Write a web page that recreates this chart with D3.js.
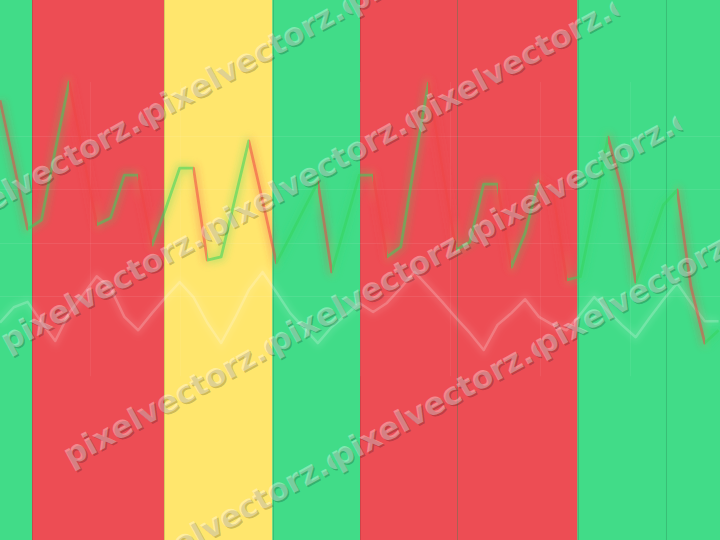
<!DOCTYPE html>
<html><head><meta charset="utf-8">
<script src="https://cdn.jsdelivr.net/npm/d3@7"></script>
<style>html,body{margin:0;padding:0;overflow:hidden;background:#41dc88}</style>
</head><body>
<svg id="c" width="720" height="540"></svg>
<script>
// ---- data ----
const priceValues = [56.6,44.7,32.5,34.2,47.3,60.0,46.7,33.3,34.6,42.6,42.6,29.5,36.4,43.9,43.9,26.7,27.3,38.1,49.0,37.8,
  26.2,31.2,36.3,41.3,24.5,33.5,42.6,42.6,27.3,29.2,44.9,59.8,43.9,28.6,30.1,40.9,40.9,25.4,31.8,41.5,
  39.8,23.0,23.6,36.6,49.7,39.8,22.6,29.5,37.0,39.8,21.7,11.2,13.6];
const baselineValues = [15.0,17.9,18.9,15.1,11.6,16.8,20.2,23.7,21.5,16.1,13.6,16.8,19.8,22.6,19.8,15.0,11.2,15.9,21.1,24.5,
  20.7,16.8,14.0,11.2,14.2,16.4,18.7,17.0,18.7,21.5,24.5,21.7,18.9,15.9,13.1,9.9,14.6,16.8,19.4,16.1,
  14.6,13.6,16.6,19.8,17.2,14.6,12.3,15.9,19.3,22.4,18.7,15.3,15.3];
const bandStart = [-1, 2.32, 11.87, 19.72, 26.05, 33.1, 41.79, 48.19];
const bandEnd   = [2.32, 11.87, 19.72, 26.05, 33.1, 41.79, 48.19, 54];
const bandState = ["up","down","neutral","up","down","down","up","up"];
const yTicks = [20, 30, 40, 50];
const colTicks = [1, 2, 3, 4, 5, 6, 7];
const watermarkText = "pixelvectorz.com";

// ---- setup ----
const W = 720, H = 540;
const svg = d3.select("#c");
const x = d3.scaleLinear().domain([0, 52.1]).range([0, W]);
const y = d3.scaleLinear().domain([0, 50]).range([403, 135.5]);
const colX = d3.scaleLinear().domain([0, 8]).range([0, W]);
const bandColor = {up: "#41dc88", down: "#ed4d54", neutral: "#ffe66d"};
const upColor = "#34d45e", downColor = "#ef4444";

const defs = svg.append("defs");
const f = defs.append("filter").attr("id", "glow").attr("x", "-20%").attr("y", "-20%").attr("width", "140%").attr("height", "140%");
f.append("feGaussianBlur").attr("stdDeviation", 3);

const grad = defs.append("linearGradient").attr("id", "seg")
  .attr("gradientUnits", "userSpaceOnUse").attr("x1", 0).attr("x2", W).attr("y1", 0).attr("y2", 0);
for (let i = 0; i < priceValues.length - 1; i++) {
  const c = priceValues[i + 1] >= priceValues[i] ? upColor : downColor;
  grad.append("stop").attr("offset", Math.max(0, Math.min(1, x(i) / W))).attr("stop-color", c);
  grad.append("stop").attr("offset", Math.max(0, Math.min(1, x(i + 1) / W))).attr("stop-color", c);
}

// bands
const bands = bandState.map((s, k) => ({s, a: bandStart[k], b: bandEnd[k]}));
svg.append("g").selectAll("rect").data(bands).join("rect")
  .attr("x", d => x(d.a)).attr("y", 0)
  .attr("width", d => x(d.b) - x(d.a)).attr("height", H)
  .attr("fill", d => bandColor[d.s]);
svg.append("g").selectAll("line").data(bands.slice(1)).join("line")
  .attr("x1", d => Math.round(x(d.a)) + 0.5).attr("x2", d => Math.round(x(d.a)) + 0.5)
  .attr("y1", 0).attr("y2", H)
  .attr("stroke", "rgba(0,0,0,0.13)").attr("stroke-width", 1);

// grid
const grid = svg.append("g");
grid.selectAll("line.h").data(yTicks).join("line").attr("class", "h")
  .attr("x1", 0).attr("x2", W)
  .attr("y1", d => Math.round(y(d)) + 0.5).attr("y2", d => Math.round(y(d)) + 0.5)
  .attr("stroke", "rgba(255,255,255,0.08)");
grid.selectAll("line.v").data(colTicks).join("line").attr("class", "v")
  .attr("x1", d => Math.round(colX(d)) + 0.5).attr("x2", d => Math.round(colX(d)) + 0.5)
  .attr("y1", y(60)).attr("y2", y(5))
  .attr("stroke", "rgba(255,255,255,0.06)");

// lines
const line = d3.line().x((d, i) => x(i)).y(d => y(d));
svg.append("path").attr("d", line(baselineValues)).attr("fill", "none")
  .attr("stroke", "#fff").attr("stroke-opacity", 0.1).attr("stroke-width", 8).attr("filter", "url(#glow)");
svg.append("path").attr("d", line(baselineValues)).attr("fill", "none")
  .attr("stroke", "#fff").attr("stroke-opacity", 0.2).attr("stroke-width", 2.5).attr("stroke-linejoin", "round");
svg.append("path").attr("d", line(priceValues)).attr("fill", "none")
  .attr("stroke", "url(#seg)").attr("stroke-opacity", 0.22).attr("stroke-width", 10)
  .attr("stroke-linejoin", "round").attr("filter", "url(#glow)");
svg.append("path").attr("d", line(priceValues)).attr("fill", "none")
  .attr("stroke", "url(#seg)").attr("stroke-opacity", 0.52).attr("stroke-width", 2.8)
  .attr("stroke-linejoin", "round");

// watermark
const wm = svg.append("g").attr("transform", "rotate(-28.8)")
  .style("font-family", "'DejaVu Sans', sans-serif").style("font-weight", "bold");
const probe = wm.append("text").attr("font-size", 31).text("pixelvectorz.");
const len = probe.node().getComputedTextLength() || 227;
probe.remove();
const fs = 31 * 226 / len;
const rowsV = [182, 312.5, 443, 573.5];
const tilesU = [-163, 70, 303];
const L = 233;
let k = 0;
rowsV.forEach(v => {
  tilesU.forEach(u => {
    const id = "wc" + (k++);
    defs.append("clipPath").attr("id", id).append("rect")
      .attr("x", u).attr("y", v - 45).attr("width", L).attr("height", 70);
    const t = wm.append("g").attr("clip-path", `url(#${id})`);
    t.append("text").attr("x", u + 0.6).attr("y", v + 2).attr("font-size", fs)
      .attr("fill", "rgba(0,0,0,0.2)").text(watermarkText);
    t.append("text").attr("x", u).attr("y", v).attr("font-size", fs)
      .attr("fill", "rgba(255,255,255,0.34)").text(watermarkText);
  });
});
</script>
</body></html>
